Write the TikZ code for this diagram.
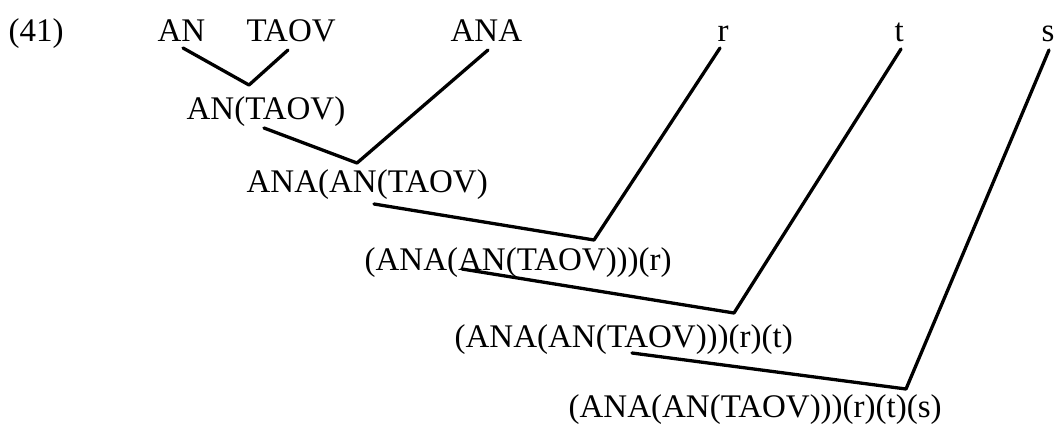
\documentclass[tikz,border=0pt]{standalone}
\usepackage{fontspec}
\setmainfont{Liberation Serif}

\begin{document}
\begin{tikzpicture}[x=1pt, y=-1pt, line width=3.3pt, line cap=round, line join=round,
  lbl/.style={anchor=base west, inner sep=0pt, font=\fontsize{33}{40}\selectfont}]
  \useasboundingbox (0,0) rectangle (1054,425);
  % --- example number and leaves ---
  \node[lbl] (num)  at (7,42)    {(41)};
  \node[lbl] (an)   at (156,42)  {AN};
  \node[lbl] (taov) at (245,42)  {TAOV};
  \node[lbl] (ana)  at (449,42)  {ANA};
  \node[lbl] (r)    at (716,42)  {r};
  \node[lbl] (t)    at (893,42)  {t};
  \node[lbl] (s)    at (1040,42) {s};
  % --- derived expressions ---
  \node[lbl] (e1) at (185,120) {AN(TAOV)};
  \node[lbl] (e2) at (245,192) {ANA(AN(TAOV)};
  \node[lbl] (e3) at (363,270) {(ANA(AN(TAOV)))(r)};
  \node[lbl] (e4) at (453,347) {(ANA(AN(TAOV)))(r)(t)};
  \node[lbl] (e5) at (567,417) {(ANA(AN(TAOV)))(r)(t)(s)};
  % --- feet of the branches ---
  \coordinate (anf)   at (183,48);
  \coordinate (taovf) at (288,50);
  \coordinate (anaf)  at (488,50);
  \coordinate (rf)    at (720,48);
  \coordinate (tf)    at (901,49);
  \coordinate (sf)    at (1049,50);
  \coordinate (e1f)   at (264,128);
  \coordinate (e2f)   at (374,204);
  \coordinate (e3f)   at (462,269);
  \coordinate (e4f)   at (632,353);
  % --- joins ---
  \coordinate (j1) at (249,85);
  \coordinate (j2) at (357,163);
  \coordinate (j3) at (594,240);
  \coordinate (j4) at (734,313);
  \coordinate (j5) at (906,389);
  % --- branches ---
  \draw (anf) -- (j1) -- (taovf);
  \draw (e1f) -- (j2) -- (anaf);
  \draw (e2f) -- (j3) -- (rf);
  \draw (e3f) -- (j4) -- (tf);
  \draw (e4f) -- (j5) -- (sf);
\end{tikzpicture}
\end{document}
